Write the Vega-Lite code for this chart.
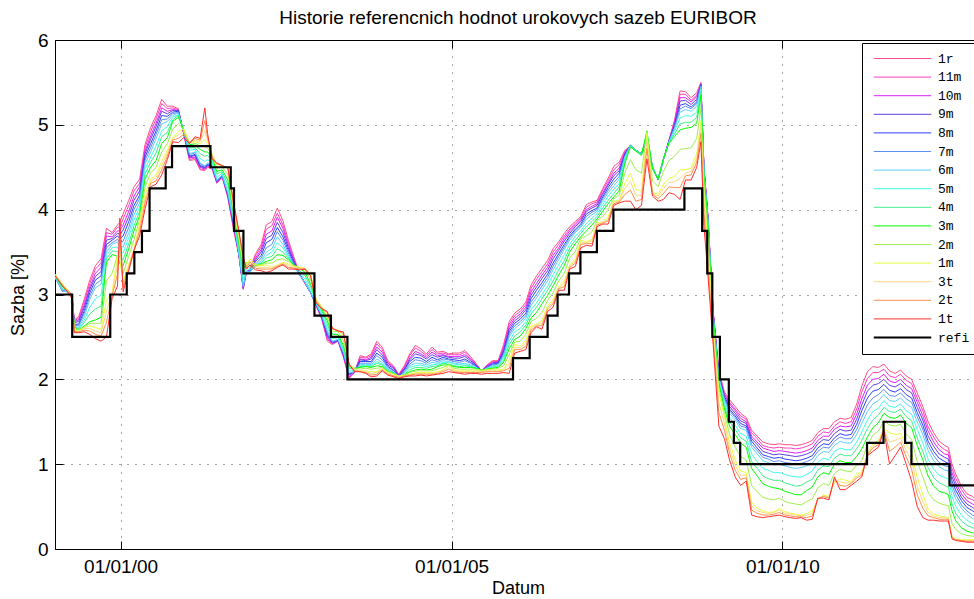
{
"$schema":"https://vega.github.io/schema/vega-lite/v6.json",
"width":926,"height":509,
"autosize":{"type":"none"},
"padding":{"left":55,"top":40,"right":0,"bottom":50},
"background":"white",
"title":{"text":"Historie referencnich hodnot urokovych sazeb EURIBOR","font":"Liberation Sans","fontSize":19,"fontWeight":"normal","color":"black","offset":3},
"config":{
 "view":{"stroke":"black","strokeWidth":1},
 "axis":{"domainColor":"black","tickColor":"black","labelColor":"black","titleColor":"black","labelFont":"Liberation Sans","titleFont":"Liberation Sans","labelFontSize":19,"titleFontSize":18,"titleFontWeight":"normal","gridColor":"#000","gridOpacity":0.7,"gridDash":[1,7],"tickSize":-8,"labelFlush":false,"labelOverlap":false}
},
"resolve":{"axis":{"x":"independent"}},
"layer":[
{
"data":{"values":[
{"d":"1999-01-04","1t":3.22,"2t":3.23,"3t":3.23,"1m":3.24,"2m":3.24,"3m":3.23,"4m":3.22,"5m":3.21,"6m":3.20,"7m":3.20,"8m":3.20,"9m":3.21,"10m":3.21,"11m":3.21,"1r":3.21},
{"d":"1999-02-15","1t":3.10,"2t":3.11,"3t":3.11,"1m":3.12,"2m":3.11,"3m":3.09,"4m":3.07,"5m":3.06,"6m":3.04,"7m":3.04,"8m":3.04,"9m":3.04,"10m":3.04,"11m":3.04,"1r":3.04},
{"d":"1999-03-15","1t":3.03,"2t":3.04,"3t":3.04,"1m":3.05,"2m":3.05,"3m":3.05,"4m":3.04,"5m":3.04,"6m":3.03,"7m":3.03,"8m":3.04,"9m":3.04,"10m":3.04,"11m":3.05,"1r":3.05},
{"d":"1999-04-08","1t":2.95,"2t":2.96,"3t":2.97,"1m":2.98,"2m":2.98,"3m":2.97,"4m":2.97,"5m":2.96,"6m":2.96,"7m":2.97,"8m":2.97,"9m":2.98,"10m":2.99,"11m":2.99,"1r":3.00},
{"d":"1999-04-20","1t":2.55,"2t":2.56,"3t":2.57,"1m":2.58,"2m":2.60,"3m":2.62,"4m":2.62,"5m":2.63,"6m":2.63,"7m":2.64,"8m":2.65,"9m":2.67,"10m":2.68,"11m":2.69,"1r":2.70},
{"d":"1999-05-15","1t":2.55,"2t":2.56,"3t":2.56,"1m":2.57,"2m":2.58,"3m":2.58,"4m":2.59,"5m":2.60,"6m":2.61,"7m":2.63,"8m":2.65,"9m":2.68,"10m":2.70,"11m":2.72,"1r":2.74},
{"d":"1999-06-15","1t":2.56,"2t":2.58,"3t":2.60,"1m":2.61,"2m":2.62,"3m":2.63,"4m":2.67,"5m":2.70,"6m":2.74,"7m":2.78,"8m":2.81,"9m":2.85,"10m":2.88,"11m":2.92,"1r":2.95},
{"d":"1999-07-15","1t":2.53,"2t":2.57,"3t":2.60,"1m":2.63,"2m":2.66,"3m":2.68,"4m":2.77,"5m":2.85,"6m":2.94,"7m":2.98,"8m":3.02,"9m":3.06,"10m":3.09,"11m":3.13,"1r":3.17},
{"d":"1999-08-15","1t":2.48,"2t":2.53,"3t":2.57,"1m":2.61,"2m":2.66,"3m":2.70,"4m":2.83,"5m":2.95,"6m":3.08,"7m":3.12,"8m":3.17,"9m":3.21,"10m":3.25,"11m":3.30,"1r":3.34},
{"d":"1999-09-15","1t":2.45,"2t":2.51,"3t":2.55,"1m":2.59,"2m":2.66,"3m":2.73,"4m":2.86,"5m":2.99,"6m":3.12,"7m":3.17,"8m":3.22,"9m":3.27,"10m":3.32,"11m":3.37,"1r":3.42},
{"d":"1999-10-15","1t":2.50,"2t":2.67,"3t":2.80,"1m":2.93,"2m":3.16,"3m":3.38,"4m":3.42,"5m":3.46,"6m":3.50,"7m":3.55,"8m":3.59,"9m":3.64,"10m":3.69,"11m":3.73,"1r":3.78},
{"d":"1999-11-15","1t":2.95,"2t":2.98,"3t":3.01,"1m":3.03,"2m":3.25,"3m":3.47,"4m":3.51,"5m":3.55,"6m":3.59,"7m":3.61,"8m":3.64,"9m":3.66,"10m":3.68,"11m":3.71,"1r":3.73},
{"d":"1999-12-15","1t":3.10,"2t":3.24,"3t":3.35,"1m":3.46,"2m":3.46,"3m":3.45,"4m":3.51,"5m":3.56,"6m":3.62,"7m":3.65,"8m":3.69,"9m":3.72,"10m":3.75,"11m":3.79,"1r":3.82},
{"d":"1999-12-28","1t":3.90,"2t":3.70,"3t":3.55,"1m":3.40,"2m":3.38,"3m":3.36,"4m":3.43,"5m":3.49,"6m":3.56,"7m":3.61,"8m":3.66,"9m":3.71,"10m":3.75,"11m":3.80,"1r":3.85},
{"d":"2000-01-15","1t":3.03,"2t":3.08,"3t":3.11,"1m":3.15,"2m":3.25,"3m":3.34,"4m":3.41,"5m":3.49,"6m":3.56,"7m":3.63,"8m":3.69,"9m":3.76,"10m":3.82,"11m":3.89,"1r":3.95},
{"d":"2000-02-15","1t":3.28,"2t":3.31,"3t":3.34,"1m":3.36,"2m":3.45,"3m":3.54,"4m":3.60,"5m":3.67,"6m":3.73,"7m":3.79,"8m":3.86,"9m":3.92,"10m":3.98,"11m":4.05,"1r":4.11},
{"d":"2000-03-15","1t":3.52,"2t":3.52,"3t":3.53,"1m":3.53,"2m":3.64,"3m":3.75,"4m":3.81,"5m":3.88,"6m":3.94,"7m":4.00,"8m":4.05,"9m":4.11,"10m":4.16,"11m":4.22,"1r":4.27},
{"d":"2000-04-15","1t":3.69,"2t":3.75,"3t":3.80,"1m":3.85,"2m":3.89,"3m":3.93,"4m":3.98,"5m":4.03,"6m":4.08,"7m":4.13,"8m":4.17,"9m":4.22,"10m":4.27,"11m":4.31,"1r":4.36},
{"d":"2000-05-15","1t":4.01,"2t":4.08,"3t":4.13,"1m":4.18,"2m":4.27,"3m":4.36,"4m":4.42,"5m":4.48,"6m":4.54,"7m":4.58,"8m":4.62,"9m":4.66,"10m":4.69,"11m":4.73,"1r":4.77},
{"d":"2000-06-15","1t":4.27,"2t":4.31,"3t":4.33,"1m":4.36,"2m":4.43,"3m":4.50,"4m":4.56,"5m":4.62,"6m":4.68,"7m":4.73,"8m":4.78,"9m":4.83,"10m":4.87,"11m":4.92,"1r":4.97},
{"d":"2000-07-15","1t":4.30,"2t":4.34,"3t":4.38,"1m":4.41,"2m":4.50,"3m":4.58,"4m":4.67,"5m":4.75,"6m":4.84,"7m":4.89,"8m":4.93,"9m":4.98,"10m":5.02,"11m":5.07,"1r":5.11},
{"d":"2000-08-15","1t":4.41,"2t":4.47,"3t":4.52,"1m":4.57,"2m":4.68,"3m":4.78,"4m":4.86,"5m":4.93,"6m":5.01,"7m":5.06,"8m":5.11,"9m":5.16,"10m":5.20,"11m":5.25,"1r":5.30},
{"d":"2000-09-15","1t":4.59,"2t":4.63,"3t":4.67,"1m":4.70,"2m":4.78,"3m":4.85,"4m":4.91,"5m":4.98,"6m":5.04,"7m":5.07,"8m":5.10,"9m":5.13,"10m":5.16,"11m":5.19,"1r":5.22},
{"d":"2000-10-15","1t":4.80,"2t":4.82,"3t":4.84,"1m":4.85,"2m":4.95,"3m":5.04,"4m":5.06,"5m":5.09,"6m":5.11,"7m":5.13,"8m":5.15,"9m":5.17,"10m":5.18,"11m":5.20,"1r":5.22},
{"d":"2000-11-15","1t":4.79,"2t":4.84,"3t":4.88,"1m":4.92,"2m":5.01,"3m":5.09,"4m":5.11,"5m":5.12,"6m":5.14,"7m":5.15,"8m":5.16,"9m":5.17,"10m":5.17,"11m":5.18,"1r":5.19},
{"d":"2000-12-15","1t":4.85,"2t":4.89,"3t":4.92,"1m":4.95,"2m":4.95,"3m":4.94,"4m":4.93,"5m":4.93,"6m":4.92,"7m":4.91,"8m":4.91,"9m":4.90,"10m":4.89,"11m":4.89,"1r":4.88},
{"d":"2001-01-15","1t":4.78,"2t":4.79,"3t":4.79,"1m":4.80,"2m":4.79,"3m":4.77,"4m":4.73,"5m":4.70,"6m":4.66,"7m":4.65,"8m":4.63,"9m":4.62,"10m":4.61,"11m":4.59,"1r":4.58},
{"d":"2001-02-15","1t":4.86,"2t":4.84,"3t":4.82,"1m":4.80,"2m":4.78,"3m":4.76,"4m":4.73,"5m":4.71,"6m":4.68,"7m":4.67,"8m":4.65,"9m":4.64,"10m":4.62,"11m":4.61,"1r":4.59},
{"d":"2001-03-15","1t":4.84,"2t":4.82,"3t":4.80,"1m":4.78,"2m":4.75,"3m":4.71,"4m":4.66,"5m":4.60,"6m":4.55,"7m":4.54,"8m":4.52,"9m":4.51,"10m":4.50,"11m":4.48,"1r":4.47},
{"d":"2001-04-10","1t":5.20,"2t":5.05,"3t":4.93,"1m":4.82,"2m":4.75,"3m":4.68,"4m":4.63,"5m":4.57,"6m":4.52,"7m":4.51,"8m":4.50,"9m":4.49,"10m":4.48,"11m":4.47,"1r":4.46},
{"d":"2001-04-25","1t":4.90,"2t":4.85,"3t":4.82,"1m":4.78,"2m":4.73,"3m":4.68,"4m":4.64,"5m":4.59,"6m":4.55,"7m":4.54,"8m":4.53,"9m":4.53,"10m":4.52,"11m":4.51,"1r":4.50},
{"d":"2001-05-20","1t":4.60,"2t":4.62,"3t":4.64,"1m":4.66,"2m":4.64,"3m":4.62,"4m":4.59,"5m":4.56,"6m":4.53,"7m":4.52,"8m":4.51,"9m":4.51,"10m":4.50,"11m":4.49,"1r":4.48},
{"d":"2001-06-15","1t":4.55,"2t":4.54,"3t":4.54,"1m":4.53,"2m":4.49,"3m":4.45,"4m":4.42,"5m":4.38,"6m":4.35,"7m":4.34,"8m":4.34,"9m":4.33,"10m":4.32,"11m":4.32,"1r":4.31},
{"d":"2001-07-15","1t":4.52,"2t":4.52,"3t":4.52,"1m":4.52,"2m":4.50,"3m":4.47,"4m":4.45,"5m":4.43,"6m":4.41,"7m":4.40,"8m":4.40,"9m":4.40,"10m":4.39,"11m":4.39,"1r":4.38},
{"d":"2001-08-15","1t":4.49,"2t":4.49,"3t":4.49,"1m":4.49,"2m":4.42,"3m":4.35,"4m":4.30,"5m":4.25,"6m":4.20,"7m":4.19,"8m":4.18,"9m":4.17,"10m":4.16,"11m":4.15,"1r":4.14},
{"d":"2001-09-15","1t":4.10,"2t":4.07,"3t":4.04,"1m":4.02,"2m":4.00,"3m":3.98,"4m":3.95,"5m":3.91,"6m":3.88,"7m":3.86,"8m":3.84,"9m":3.83,"10m":3.81,"11m":3.79,"1r":3.77},
{"d":"2001-10-15","1t":3.75,"2t":3.73,"3t":3.71,"1m":3.69,"2m":3.65,"3m":3.60,"4m":3.56,"5m":3.52,"6m":3.48,"7m":3.48,"8m":3.47,"9m":3.47,"10m":3.47,"11m":3.46,"1r":3.46},
{"d":"2001-11-08","1t":3.45,"2t":3.42,"3t":3.40,"1m":3.38,"2m":3.34,"3m":3.30,"4m":3.23,"5m":3.17,"6m":3.10,"7m":3.09,"8m":3.09,"9m":3.08,"10m":3.07,"11m":3.07,"1r":3.06},
{"d":"2001-11-25","1t":3.30,"2t":3.32,"3t":3.34,"1m":3.35,"2m":3.37,"3m":3.38,"4m":3.35,"5m":3.31,"6m":3.28,"7m":3.27,"8m":3.27,"9m":3.27,"10m":3.27,"11m":3.26,"1r":3.26},
{"d":"2001-12-15","1t":3.35,"2t":3.38,"3t":3.40,"1m":3.42,"2m":3.38,"3m":3.34,"4m":3.31,"5m":3.29,"6m":3.26,"7m":3.27,"8m":3.27,"9m":3.28,"10m":3.29,"11m":3.29,"1r":3.30},
{"d":"2002-01-15","1t":3.29,"2t":3.31,"3t":3.33,"1m":3.35,"2m":3.35,"3m":3.34,"4m":3.34,"5m":3.34,"6m":3.34,"7m":3.36,"8m":3.39,"9m":3.41,"10m":3.43,"11m":3.46,"1r":3.48},
{"d":"2002-02-15","1t":3.28,"2t":3.30,"3t":3.32,"1m":3.34,"2m":3.35,"3m":3.36,"4m":3.37,"5m":3.39,"6m":3.40,"7m":3.43,"8m":3.46,"9m":3.50,"10m":3.53,"11m":3.56,"1r":3.59},
{"d":"2002-03-15","1t":3.26,"2t":3.30,"3t":3.32,"1m":3.35,"2m":3.37,"3m":3.39,"4m":3.43,"5m":3.46,"6m":3.50,"7m":3.55,"8m":3.61,"9m":3.66,"10m":3.71,"11m":3.77,"1r":3.82},
{"d":"2002-04-15","1t":3.28,"2t":3.30,"3t":3.31,"1m":3.32,"2m":3.37,"3m":3.41,"4m":3.45,"5m":3.50,"6m":3.54,"7m":3.59,"8m":3.65,"9m":3.70,"10m":3.75,"11m":3.81,"1r":3.86},
{"d":"2002-05-15","1t":3.32,"2t":3.33,"3t":3.34,"1m":3.35,"2m":3.41,"3m":3.47,"4m":3.54,"5m":3.61,"6m":3.68,"7m":3.74,"8m":3.79,"9m":3.85,"10m":3.91,"11m":3.96,"1r":4.02},
{"d":"2002-06-15","1t":3.35,"2t":3.36,"3t":3.37,"1m":3.38,"2m":3.42,"3m":3.46,"4m":3.50,"5m":3.55,"6m":3.59,"7m":3.64,"8m":3.68,"9m":3.73,"10m":3.78,"11m":3.82,"1r":3.87},
{"d":"2002-07-15","1t":3.30,"2t":3.32,"3t":3.34,"1m":3.36,"2m":3.39,"3m":3.41,"4m":3.43,"5m":3.44,"6m":3.46,"7m":3.49,"8m":3.52,"9m":3.55,"10m":3.58,"11m":3.61,"1r":3.64},
{"d":"2002-08-15","1t":3.30,"2t":3.31,"3t":3.32,"1m":3.33,"2m":3.34,"3m":3.35,"4m":3.34,"5m":3.34,"6m":3.33,"7m":3.35,"8m":3.37,"9m":3.39,"10m":3.40,"11m":3.42,"1r":3.44},
{"d":"2002-09-15","1t":3.29,"2t":3.30,"3t":3.31,"1m":3.32,"2m":3.32,"3m":3.31,"4m":3.28,"5m":3.26,"6m":3.23,"7m":3.23,"8m":3.23,"9m":3.24,"10m":3.24,"11m":3.24,"1r":3.24},
{"d":"2002-10-15","1t":3.30,"2t":3.30,"3t":3.31,"1m":3.31,"2m":3.29,"3m":3.26,"4m":3.22,"5m":3.18,"6m":3.14,"7m":3.14,"8m":3.14,"9m":3.14,"10m":3.13,"11m":3.13,"1r":3.13},
{"d":"2002-11-15","1t":3.22,"2t":3.22,"3t":3.23,"1m":3.23,"2m":3.18,"3m":3.12,"4m":3.09,"5m":3.05,"6m":3.02,"7m":3.02,"8m":3.02,"9m":3.02,"10m":3.02,"11m":3.02,"1r":3.02},
{"d":"2002-12-15","1t":2.90,"2t":2.92,"3t":2.93,"1m":2.94,"2m":2.94,"3m":2.94,"4m":2.92,"5m":2.91,"6m":2.89,"7m":2.89,"8m":2.88,"9m":2.88,"10m":2.88,"11m":2.87,"1r":2.87},
{"d":"2003-01-15","1t":2.83,"2t":2.84,"3t":2.85,"1m":2.86,"2m":2.85,"3m":2.83,"4m":2.81,"5m":2.78,"6m":2.76,"7m":2.75,"8m":2.74,"9m":2.74,"10m":2.73,"11m":2.72,"1r":2.71},
{"d":"2003-02-15","1t":2.80,"2t":2.79,"3t":2.78,"1m":2.77,"2m":2.73,"3m":2.69,"4m":2.65,"5m":2.61,"6m":2.57,"7m":2.55,"8m":2.53,"9m":2.51,"10m":2.49,"11m":2.47,"1r":2.45},
{"d":"2003-03-15","1t":2.60,"2t":2.60,"3t":2.60,"1m":2.60,"2m":2.57,"3m":2.53,"4m":2.50,"5m":2.48,"6m":2.45,"7m":2.44,"8m":2.44,"9m":2.43,"10m":2.42,"11m":2.42,"1r":2.41},
{"d":"2003-04-15","1t":2.57,"2t":2.57,"3t":2.58,"1m":2.58,"2m":2.56,"3m":2.53,"4m":2.51,"5m":2.49,"6m":2.47,"7m":2.47,"8m":2.46,"9m":2.46,"10m":2.46,"11m":2.45,"1r":2.45},
{"d":"2003-05-15","1t":2.56,"2t":2.54,"3t":2.53,"1m":2.52,"2m":2.46,"3m":2.40,"4m":2.37,"5m":2.35,"6m":2.32,"7m":2.31,"8m":2.30,"9m":2.29,"10m":2.28,"11m":2.27,"1r":2.26},
{"d":"2003-06-15","1t":2.18,"2t":2.18,"3t":2.18,"1m":2.18,"2m":2.17,"3m":2.15,"4m":2.13,"5m":2.10,"6m":2.08,"7m":2.07,"8m":2.06,"9m":2.05,"10m":2.03,"11m":2.02,"1r":2.01},
{"d":"2003-07-15","1t":2.09,"2t":2.10,"3t":2.11,"1m":2.12,"2m":2.13,"3m":2.13,"4m":2.12,"5m":2.10,"6m":2.09,"7m":2.09,"8m":2.09,"9m":2.09,"10m":2.08,"11m":2.08,"1r":2.08},
{"d":"2003-08-15","1t":2.09,"2t":2.09,"3t":2.10,"1m":2.10,"2m":2.12,"3m":2.14,"4m":2.15,"5m":2.16,"6m":2.17,"7m":2.19,"8m":2.21,"9m":2.23,"10m":2.24,"11m":2.26,"1r":2.28},
{"d":"2003-09-15","1t":2.07,"2t":2.08,"3t":2.09,"1m":2.10,"2m":2.13,"3m":2.15,"4m":2.16,"5m":2.17,"6m":2.18,"7m":2.19,"8m":2.21,"9m":2.22,"10m":2.23,"11m":2.25,"1r":2.26},
{"d":"2003-10-15","1t":2.03,"2t":2.05,"3t":2.07,"1m":2.09,"2m":2.12,"3m":2.14,"4m":2.15,"5m":2.16,"6m":2.17,"7m":2.19,"8m":2.21,"9m":2.24,"10m":2.26,"11m":2.28,"1r":2.30},
{"d":"2003-11-15","1t":2.04,"2t":2.06,"3t":2.08,"1m":2.09,"2m":2.13,"3m":2.16,"4m":2.19,"5m":2.21,"6m":2.24,"7m":2.28,"8m":2.31,"9m":2.35,"10m":2.38,"11m":2.42,"1r":2.45},
{"d":"2003-12-15","1t":2.10,"2t":2.11,"3t":2.12,"1m":2.13,"2m":2.14,"3m":2.15,"4m":2.17,"5m":2.18,"6m":2.20,"7m":2.23,"8m":2.26,"9m":2.29,"10m":2.32,"11m":2.35,"1r":2.38},
{"d":"2004-01-15","1t":2.05,"2t":2.06,"3t":2.07,"1m":2.08,"2m":2.09,"3m":2.09,"4m":2.10,"5m":2.11,"6m":2.12,"7m":2.14,"8m":2.15,"9m":2.17,"10m":2.19,"11m":2.20,"1r":2.22},
{"d":"2004-02-15","1t":2.03,"2t":2.04,"3t":2.05,"1m":2.06,"2m":2.07,"3m":2.07,"4m":2.08,"5m":2.08,"6m":2.09,"7m":2.10,"8m":2.11,"9m":2.13,"10m":2.14,"11m":2.15,"1r":2.16},
{"d":"2004-03-15","1t":2.01,"2t":2.02,"3t":2.03,"1m":2.04,"2m":2.04,"3m":2.03,"4m":2.03,"5m":2.02,"6m":2.02,"7m":2.03,"8m":2.03,"9m":2.04,"10m":2.05,"11m":2.05,"1r":2.06},
{"d":"2004-04-15","1t":2.03,"2t":2.04,"3t":2.04,"1m":2.05,"2m":2.05,"3m":2.05,"4m":2.06,"5m":2.07,"6m":2.08,"7m":2.09,"8m":2.11,"9m":2.12,"10m":2.13,"11m":2.15,"1r":2.16},
{"d":"2004-05-15","1t":2.04,"2t":2.05,"3t":2.05,"1m":2.06,"2m":2.08,"3m":2.09,"4m":2.11,"5m":2.14,"6m":2.16,"7m":2.18,"8m":2.21,"9m":2.23,"10m":2.25,"11m":2.28,"1r":2.30},
{"d":"2004-06-15","1t":2.04,"2t":2.06,"3t":2.07,"1m":2.08,"2m":2.10,"3m":2.11,"4m":2.14,"5m":2.16,"6m":2.19,"7m":2.23,"8m":2.26,"9m":2.30,"10m":2.33,"11m":2.37,"1r":2.40},
{"d":"2004-07-15","1t":2.05,"2t":2.06,"3t":2.07,"1m":2.08,"2m":2.10,"3m":2.12,"4m":2.14,"5m":2.17,"6m":2.19,"7m":2.22,"8m":2.25,"9m":2.28,"10m":2.30,"11m":2.33,"1r":2.36},
{"d":"2004-08-15","1t":2.04,"2t":2.06,"3t":2.07,"1m":2.08,"2m":2.10,"3m":2.11,"4m":2.13,"5m":2.15,"6m":2.17,"7m":2.19,"8m":2.21,"9m":2.24,"10m":2.26,"11m":2.28,"1r":2.30},
{"d":"2004-09-15","1t":2.05,"2t":2.06,"3t":2.07,"1m":2.08,"2m":2.10,"3m":2.12,"4m":2.15,"5m":2.17,"6m":2.20,"7m":2.23,"8m":2.26,"9m":2.29,"10m":2.32,"11m":2.35,"1r":2.38},
{"d":"2004-10-15","1t":2.06,"2t":2.07,"3t":2.08,"1m":2.09,"2m":2.12,"3m":2.15,"4m":2.16,"5m":2.18,"6m":2.19,"7m":2.21,"8m":2.23,"9m":2.26,"10m":2.28,"11m":2.30,"1r":2.32},
{"d":"2004-11-15","1t":2.07,"2t":2.09,"3t":2.10,"1m":2.11,"2m":2.14,"3m":2.17,"4m":2.19,"5m":2.20,"6m":2.22,"7m":2.24,"8m":2.26,"9m":2.28,"10m":2.29,"11m":2.31,"1r":2.33},
{"d":"2004-12-15","1t":2.09,"2t":2.12,"3t":2.15,"1m":2.17,"2m":2.17,"3m":2.17,"4m":2.18,"5m":2.20,"6m":2.21,"7m":2.23,"8m":2.24,"9m":2.26,"10m":2.27,"11m":2.29,"1r":2.30},
{"d":"2005-01-15","1t":2.08,"2t":2.09,"3t":2.10,"1m":2.11,"2m":2.13,"3m":2.15,"4m":2.16,"5m":2.18,"6m":2.19,"7m":2.21,"8m":2.23,"9m":2.25,"10m":2.27,"11m":2.29,"1r":2.31},
{"d":"2005-02-15","1t":2.07,"2t":2.08,"3t":2.09,"1m":2.10,"2m":2.12,"3m":2.14,"4m":2.15,"5m":2.17,"6m":2.18,"7m":2.20,"8m":2.22,"9m":2.25,"10m":2.27,"11m":2.29,"1r":2.31},
{"d":"2005-03-15","1t":2.06,"2t":2.08,"3t":2.09,"1m":2.10,"2m":2.12,"3m":2.14,"4m":2.16,"5m":2.17,"6m":2.19,"7m":2.22,"8m":2.24,"9m":2.27,"10m":2.29,"11m":2.32,"1r":2.34},
{"d":"2005-04-15","1t":2.07,"2t":2.08,"3t":2.09,"1m":2.10,"2m":2.12,"3m":2.14,"4m":2.15,"5m":2.16,"6m":2.17,"7m":2.19,"8m":2.20,"9m":2.22,"10m":2.24,"11m":2.25,"1r":2.27},
{"d":"2005-05-15","1t":2.07,"2t":2.08,"3t":2.09,"1m":2.10,"2m":2.12,"3m":2.13,"4m":2.13,"5m":2.14,"6m":2.14,"7m":2.15,"8m":2.16,"9m":2.17,"10m":2.17,"11m":2.18,"1r":2.19},
{"d":"2005-06-15","1t":2.06,"2t":2.08,"3t":2.09,"1m":2.10,"2m":2.11,"3m":2.11,"4m":2.11,"5m":2.10,"6m":2.10,"7m":2.10,"8m":2.10,"9m":2.10,"10m":2.10,"11m":2.10,"1r":2.10},
{"d":"2005-07-15","1t":2.07,"2t":2.09,"3t":2.10,"1m":2.11,"2m":2.12,"3m":2.12,"4m":2.12,"5m":2.13,"6m":2.13,"7m":2.14,"8m":2.14,"9m":2.15,"10m":2.16,"11m":2.16,"1r":2.17},
{"d":"2005-08-15","1t":2.07,"2t":2.09,"3t":2.10,"1m":2.11,"2m":2.12,"3m":2.13,"4m":2.14,"5m":2.15,"6m":2.16,"7m":2.17,"8m":2.18,"9m":2.19,"10m":2.20,"11m":2.21,"1r":2.22},
{"d":"2005-09-15","1t":2.07,"2t":2.09,"3t":2.10,"1m":2.11,"2m":2.13,"3m":2.14,"4m":2.15,"5m":2.16,"6m":2.17,"7m":2.18,"8m":2.19,"9m":2.20,"10m":2.20,"11m":2.21,"1r":2.22},
{"d":"2005-10-15","1t":2.08,"2t":2.10,"3t":2.11,"1m":2.12,"2m":2.16,"3m":2.20,"4m":2.22,"5m":2.25,"6m":2.27,"7m":2.29,"8m":2.32,"9m":2.34,"10m":2.36,"11m":2.39,"1r":2.41},
{"d":"2005-11-15","1t":2.07,"2t":2.13,"3t":2.18,"1m":2.22,"2m":2.29,"3m":2.36,"4m":2.41,"5m":2.45,"6m":2.50,"7m":2.53,"8m":2.56,"9m":2.59,"10m":2.62,"11m":2.65,"1r":2.68},
{"d":"2005-12-15","1t":2.31,"2t":2.35,"3t":2.38,"1m":2.41,"2m":2.44,"3m":2.47,"4m":2.51,"5m":2.56,"6m":2.60,"7m":2.63,"8m":2.66,"9m":2.69,"10m":2.72,"11m":2.75,"1r":2.78},
{"d":"2006-01-15","1t":2.33,"2t":2.35,"3t":2.37,"1m":2.39,"2m":2.45,"3m":2.51,"4m":2.56,"5m":2.60,"6m":2.65,"7m":2.68,"8m":2.71,"9m":2.74,"10m":2.77,"11m":2.80,"1r":2.83},
{"d":"2006-02-15","1t":2.35,"2t":2.39,"3t":2.43,"1m":2.46,"2m":2.53,"3m":2.60,"4m":2.64,"5m":2.68,"6m":2.72,"7m":2.75,"8m":2.78,"9m":2.82,"10m":2.85,"11m":2.88,"1r":2.91},
{"d":"2006-03-15","1t":2.55,"2t":2.58,"3t":2.61,"1m":2.63,"2m":2.68,"3m":2.72,"4m":2.77,"5m":2.82,"6m":2.87,"7m":2.91,"8m":2.95,"9m":2.99,"10m":3.03,"11m":3.07,"1r":3.11},
{"d":"2006-04-15","1t":2.62,"2t":2.63,"3t":2.64,"1m":2.65,"2m":2.72,"3m":2.79,"4m":2.85,"5m":2.90,"6m":2.96,"7m":3.00,"8m":3.05,"9m":3.09,"10m":3.13,"11m":3.18,"1r":3.22},
{"d":"2006-05-15","1t":2.59,"2t":2.63,"3t":2.66,"1m":2.69,"2m":2.79,"3m":2.89,"4m":2.95,"5m":3.00,"6m":3.06,"7m":3.10,"8m":3.14,"9m":3.19,"10m":3.23,"11m":3.27,"1r":3.31},
{"d":"2006-06-15","1t":2.80,"2t":2.83,"3t":2.85,"1m":2.87,"2m":2.93,"3m":2.99,"4m":3.05,"5m":3.10,"6m":3.16,"7m":3.20,"8m":3.24,"9m":3.28,"10m":3.32,"11m":3.36,"1r":3.40},
{"d":"2006-07-15","1t":2.85,"2t":2.89,"3t":2.91,"1m":2.94,"2m":3.02,"3m":3.10,"4m":3.16,"5m":3.23,"6m":3.29,"7m":3.33,"8m":3.37,"9m":3.42,"10m":3.46,"11m":3.50,"1r":3.54},
{"d":"2006-08-15","1t":3.05,"2t":3.07,"3t":3.08,"1m":3.09,"2m":3.16,"3m":3.23,"4m":3.29,"5m":3.35,"6m":3.41,"7m":3.45,"8m":3.48,"9m":3.52,"10m":3.55,"11m":3.59,"1r":3.62},
{"d":"2006-09-15","1t":3.05,"2t":3.09,"3t":3.13,"1m":3.16,"2m":3.25,"3m":3.34,"4m":3.40,"5m":3.47,"6m":3.53,"7m":3.56,"8m":3.59,"9m":3.63,"10m":3.66,"11m":3.69,"1r":3.72},
{"d":"2006-10-15","1t":3.30,"2t":3.32,"3t":3.34,"1m":3.35,"2m":3.43,"3m":3.50,"4m":3.55,"5m":3.59,"6m":3.64,"7m":3.67,"8m":3.69,"9m":3.72,"10m":3.75,"11m":3.77,"1r":3.80},
{"d":"2006-11-15","1t":3.33,"2t":3.37,"3t":3.39,"1m":3.42,"2m":3.51,"3m":3.60,"4m":3.64,"5m":3.69,"6m":3.73,"7m":3.75,"8m":3.77,"9m":3.80,"10m":3.82,"11m":3.84,"1r":3.86},
{"d":"2006-12-15","1t":3.55,"2t":3.59,"3t":3.61,"1m":3.64,"2m":3.66,"3m":3.68,"4m":3.72,"5m":3.75,"6m":3.79,"7m":3.81,"8m":3.83,"9m":3.86,"10m":3.88,"11m":3.90,"1r":3.92},
{"d":"2007-01-15","1t":3.58,"2t":3.60,"3t":3.61,"1m":3.62,"2m":3.69,"3m":3.75,"4m":3.80,"5m":3.84,"6m":3.89,"7m":3.92,"8m":3.95,"9m":3.98,"10m":4.00,"11m":4.03,"1r":4.06},
{"d":"2007-02-15","1t":3.57,"2t":3.60,"3t":3.63,"1m":3.65,"2m":3.74,"3m":3.82,"4m":3.86,"5m":3.90,"6m":3.94,"7m":3.97,"8m":3.99,"9m":4.02,"10m":4.04,"11m":4.07,"1r":4.09},
{"d":"2007-03-15","1t":3.80,"2t":3.82,"3t":3.83,"1m":3.84,"2m":3.87,"3m":3.89,"4m":3.92,"5m":3.95,"6m":3.98,"7m":4.00,"8m":4.02,"9m":4.05,"10m":4.07,"11m":4.09,"1r":4.11},
{"d":"2007-04-15","1t":3.83,"2t":3.84,"3t":3.85,"1m":3.86,"2m":3.92,"3m":3.98,"4m":4.02,"5m":4.06,"6m":4.10,"7m":4.13,"8m":4.15,"9m":4.18,"10m":4.20,"11m":4.23,"1r":4.25},
{"d":"2007-05-15","1t":3.83,"2t":3.87,"3t":3.89,"1m":3.92,"2m":4.00,"3m":4.07,"4m":4.11,"5m":4.16,"6m":4.20,"7m":4.23,"8m":4.26,"9m":4.29,"10m":4.31,"11m":4.34,"1r":4.37},
{"d":"2007-06-15","1t":4.05,"2t":4.07,"3t":4.09,"1m":4.10,"2m":4.13,"3m":4.15,"4m":4.19,"5m":4.24,"6m":4.28,"7m":4.32,"8m":4.36,"9m":4.40,"10m":4.43,"11m":4.47,"1r":4.51},
{"d":"2007-07-15","1t":4.08,"2t":4.09,"3t":4.10,"1m":4.11,"2m":4.17,"3m":4.22,"4m":4.27,"5m":4.31,"6m":4.36,"7m":4.39,"8m":4.43,"9m":4.46,"10m":4.49,"11m":4.53,"1r":4.56},
{"d":"2007-08-15","1t":4.10,"2t":4.18,"3t":4.25,"1m":4.31,"2m":4.43,"3m":4.54,"4m":4.57,"5m":4.59,"6m":4.62,"7m":4.63,"8m":4.65,"9m":4.66,"10m":4.67,"11m":4.69,"1r":4.70},
{"d":"2007-09-15","1t":4.10,"2t":4.23,"3t":4.33,"1m":4.43,"2m":4.59,"3m":4.74,"4m":4.75,"5m":4.75,"6m":4.76,"7m":4.76,"8m":4.76,"9m":4.76,"10m":4.75,"11m":4.75,"1r":4.75},
{"d":"2007-10-15","1t":4.00,"2t":4.10,"3t":4.17,"1m":4.24,"2m":4.47,"3m":4.69,"4m":4.69,"5m":4.70,"6m":4.70,"7m":4.70,"8m":4.70,"9m":4.70,"10m":4.70,"11m":4.70,"1r":4.70},
{"d":"2007-11-15","1t":4.05,"2t":4.12,"3t":4.17,"1m":4.22,"2m":4.43,"3m":4.64,"4m":4.65,"5m":4.65,"6m":4.66,"7m":4.66,"8m":4.66,"9m":4.66,"10m":4.66,"11m":4.66,"1r":4.66},
{"d":"2007-12-15","1t":4.60,"2t":4.72,"3t":4.81,"1m":4.90,"2m":4.92,"3m":4.93,"4m":4.90,"5m":4.88,"6m":4.85,"7m":4.84,"8m":4.83,"9m":4.83,"10m":4.82,"11m":4.81,"1r":4.80},
{"d":"2008-01-15","1t":4.16,"2t":4.18,"3t":4.19,"1m":4.20,"2m":4.34,"3m":4.48,"4m":4.49,"5m":4.49,"6m":4.50,"7m":4.50,"8m":4.50,"9m":4.50,"10m":4.50,"11m":4.50,"1r":4.50},
{"d":"2008-02-15","1t":4.10,"2t":4.13,"3t":4.16,"1m":4.18,"2m":4.27,"3m":4.36,"4m":4.36,"5m":4.36,"6m":4.36,"7m":4.36,"8m":4.36,"9m":4.36,"10m":4.36,"11m":4.35,"1r":4.35},
{"d":"2008-03-15","1t":4.12,"2t":4.19,"3t":4.25,"1m":4.30,"2m":4.45,"3m":4.60,"4m":4.60,"5m":4.59,"6m":4.59,"7m":4.59,"8m":4.59,"9m":4.59,"10m":4.59,"11m":4.59,"1r":4.59},
{"d":"2008-04-15","1t":4.20,"2t":4.27,"3t":4.32,"1m":4.37,"2m":4.58,"3m":4.78,"4m":4.79,"5m":4.79,"6m":4.80,"7m":4.80,"8m":4.81,"9m":4.81,"10m":4.81,"11m":4.82,"1r":4.82},
{"d":"2008-05-15","1t":4.18,"2t":4.26,"3t":4.33,"1m":4.39,"2m":4.63,"3m":4.86,"4m":4.89,"5m":4.92,"6m":4.95,"7m":4.97,"8m":4.98,"9m":5.00,"10m":5.02,"11m":5.03,"1r":5.05},
{"d":"2008-06-15","1t":4.12,"2t":4.26,"3t":4.37,"1m":4.47,"2m":4.71,"3m":4.94,"4m":5.01,"5m":5.08,"6m":5.15,"7m":5.19,"8m":5.23,"9m":5.28,"10m":5.32,"11m":5.36,"1r":5.40},
{"d":"2008-07-15","1t":4.35,"2t":4.40,"3t":4.43,"1m":4.47,"2m":4.72,"3m":4.96,"4m":5.03,"5m":5.11,"6m":5.18,"7m":5.22,"8m":5.25,"9m":5.29,"10m":5.32,"11m":5.36,"1r":5.39},
{"d":"2008-08-15","1t":4.35,"2t":4.41,"3t":4.45,"1m":4.49,"2m":4.73,"3m":4.97,"4m":5.03,"5m":5.10,"6m":5.16,"7m":5.19,"8m":5.21,"9m":5.24,"10m":5.27,"11m":5.29,"1r":5.32},
{"d":"2008-09-15","1t":4.50,"2t":4.56,"3t":4.61,"1m":4.66,"2m":4.84,"3m":5.02,"4m":5.09,"5m":5.15,"6m":5.22,"7m":5.25,"8m":5.27,"9m":5.30,"10m":5.33,"11m":5.35,"1r":5.38},
{"d":"2008-10-08","1t":4.80,"2t":4.90,"3t":4.98,"1m":5.05,"2m":5.20,"3m":5.35,"4m":5.38,"5m":5.42,"6m":5.45,"7m":5.46,"8m":5.47,"9m":5.48,"10m":5.48,"11m":5.49,"1r":5.50},
{"d":"2008-10-25","1t":3.80,"2t":3.96,"3t":4.08,"1m":4.20,"2m":4.30,"3m":4.40,"4m":4.42,"5m":4.43,"6m":4.45,"7m":4.46,"8m":4.47,"9m":4.48,"10m":4.48,"11m":4.49,"1r":4.50},
{"d":"2008-11-15","1t":3.25,"2t":3.39,"3t":3.50,"1m":3.60,"2m":3.73,"3m":3.85,"4m":3.87,"5m":3.88,"6m":3.90,"7m":3.91,"8m":3.92,"9m":3.93,"10m":3.93,"11m":3.94,"1r":3.95},
{"d":"2008-12-15","1t":2.40,"2t":2.46,"3t":2.51,"1m":2.55,"2m":2.63,"3m":2.70,"4m":2.72,"5m":2.73,"6m":2.75,"7m":2.76,"8m":2.77,"9m":2.78,"10m":2.78,"11m":2.79,"1r":2.80},
{"d":"2009-01-15","1t":1.45,"2t":1.61,"3t":1.73,"1m":1.85,"2m":1.90,"3m":1.95,"4m":1.97,"5m":2.00,"6m":2.02,"7m":2.03,"8m":2.05,"9m":2.06,"10m":2.07,"11m":2.09,"1r":2.10},
{"d":"2009-02-15","1t":1.30,"2t":1.40,"3t":1.48,"1m":1.55,"2m":1.60,"3m":1.65,"4m":1.68,"5m":1.72,"6m":1.75,"7m":1.77,"8m":1.78,"9m":1.80,"10m":1.82,"11m":1.83,"1r":1.85},
{"d":"2009-03-15","1t":1.05,"2t":1.13,"3t":1.19,"1m":1.25,"2m":1.35,"3m":1.45,"4m":1.50,"5m":1.55,"6m":1.60,"7m":1.63,"8m":1.65,"9m":1.68,"10m":1.71,"11m":1.73,"1r":1.76},
{"d":"2009-04-15","1t":0.85,"2t":0.93,"3t":0.99,"1m":1.05,"2m":1.20,"3m":1.35,"4m":1.41,"5m":1.46,"6m":1.52,"7m":1.55,"8m":1.57,"9m":1.60,"10m":1.63,"11m":1.65,"1r":1.68},
{"d":"2009-05-15","1t":0.75,"2t":0.82,"3t":0.87,"1m":0.92,"2m":1.09,"3m":1.25,"4m":1.31,"5m":1.36,"6m":1.42,"7m":1.45,"8m":1.48,"9m":1.51,"10m":1.54,"11m":1.57,"1r":1.60},
{"d":"2009-06-15","1t":0.80,"2t":0.84,"3t":0.87,"1m":0.90,"2m":1.05,"3m":1.20,"4m":1.27,"5m":1.33,"6m":1.40,"7m":1.43,"8m":1.45,"9m":1.48,"10m":1.50,"11m":1.53,"1r":1.55},
{"d":"2009-07-15","1t":0.40,"2t":0.46,"3t":0.51,"1m":0.55,"2m":0.75,"3m":0.95,"4m":1.03,"5m":1.12,"6m":1.20,"7m":1.23,"8m":1.27,"9m":1.30,"10m":1.33,"11m":1.37,"1r":1.40},
{"d":"2009-08-15","1t":0.38,"2t":0.42,"3t":0.45,"1m":0.48,"2m":0.67,"3m":0.86,"4m":0.95,"5m":1.03,"6m":1.12,"7m":1.16,"8m":1.19,"9m":1.23,"10m":1.26,"11m":1.30,"1r":1.33},
{"d":"2009-09-15","1t":0.37,"2t":0.40,"3t":0.43,"1m":0.45,"2m":0.61,"3m":0.77,"4m":0.86,"5m":0.95,"6m":1.04,"7m":1.08,"8m":1.11,"9m":1.15,"10m":1.19,"11m":1.22,"1r":1.26},
{"d":"2009-10-15","1t":0.38,"2t":0.40,"3t":0.42,"1m":0.43,"2m":0.59,"3m":0.74,"4m":0.83,"5m":0.93,"6m":1.02,"7m":1.06,"8m":1.09,"9m":1.13,"10m":1.17,"11m":1.20,"1r":1.24},
{"d":"2009-11-15","1t":0.39,"2t":0.41,"3t":0.43,"1m":0.44,"2m":0.58,"3m":0.72,"4m":0.81,"5m":0.90,"6m":0.99,"7m":1.03,"8m":1.07,"9m":1.11,"10m":1.15,"11m":1.19,"1r":1.23},
{"d":"2009-12-15","1t":0.40,"2t":0.43,"3t":0.46,"1m":0.48,"2m":0.60,"3m":0.71,"4m":0.81,"5m":0.90,"6m":1.00,"7m":1.04,"8m":1.08,"9m":1.12,"10m":1.16,"11m":1.20,"1r":1.24},
{"d":"2010-01-15","1t":0.38,"2t":0.40,"3t":0.42,"1m":0.44,"2m":0.56,"3m":0.68,"4m":0.78,"5m":0.88,"6m":0.98,"7m":1.02,"8m":1.06,"9m":1.11,"10m":1.15,"11m":1.19,"1r":1.23},
{"d":"2010-02-15","1t":0.37,"2t":0.39,"3t":0.41,"1m":0.42,"2m":0.54,"3m":0.66,"4m":0.76,"5m":0.86,"6m":0.96,"7m":1.01,"8m":1.05,"9m":1.10,"10m":1.14,"11m":1.19,"1r":1.23},
{"d":"2010-03-15","1t":0.36,"2t":0.38,"3t":0.40,"1m":0.41,"2m":0.53,"3m":0.64,"4m":0.74,"5m":0.85,"6m":0.95,"7m":1.00,"8m":1.04,"9m":1.09,"10m":1.13,"11m":1.18,"1r":1.22},
{"d":"2010-04-15","1t":0.37,"2t":0.38,"3t":0.39,"1m":0.40,"2m":0.52,"3m":0.64,"4m":0.75,"5m":0.85,"6m":0.96,"7m":1.01,"8m":1.05,"9m":1.10,"10m":1.14,"11m":1.19,"1r":1.23},
{"d":"2010-05-15","1t":0.34,"2t":0.37,"3t":0.40,"1m":0.42,"2m":0.56,"3m":0.69,"4m":0.79,"5m":0.88,"6m":0.98,"7m":1.03,"8m":1.07,"9m":1.12,"10m":1.16,"11m":1.21,"1r":1.25},
{"d":"2010-06-15","1t":0.35,"2t":0.39,"3t":0.42,"1m":0.45,"2m":0.59,"3m":0.73,"4m":0.82,"5m":0.92,"6m":1.01,"7m":1.06,"8m":1.10,"9m":1.15,"10m":1.19,"11m":1.24,"1r":1.28},
{"d":"2010-07-15","1t":0.60,"2t":0.59,"3t":0.59,"1m":0.58,"2m":0.72,"3m":0.85,"4m":0.93,"5m":1.02,"6m":1.10,"7m":1.15,"8m":1.19,"9m":1.24,"10m":1.28,"11m":1.33,"1r":1.37},
{"d":"2010-08-15","1t":0.60,"2t":0.62,"3t":0.63,"1m":0.64,"2m":0.77,"3m":0.90,"4m":0.98,"5m":1.07,"6m":1.15,"7m":1.20,"8m":1.24,"9m":1.29,"10m":1.33,"11m":1.38,"1r":1.42},
{"d":"2010-09-15","1t":0.58,"2t":0.60,"3t":0.61,"1m":0.62,"2m":0.75,"3m":0.88,"4m":0.97,"5m":1.05,"6m":1.14,"7m":1.19,"8m":1.23,"9m":1.28,"10m":1.33,"11m":1.37,"1r":1.42},
{"d":"2010-10-15","1t":0.85,"2t":0.82,"3t":0.80,"1m":0.78,"2m":0.89,"3m":1.00,"4m":1.07,"5m":1.15,"6m":1.22,"7m":1.27,"8m":1.31,"9m":1.36,"10m":1.41,"11m":1.45,"1r":1.50},
{"d":"2010-11-15","1t":0.70,"2t":0.75,"3t":0.79,"1m":0.83,"2m":0.94,"3m":1.04,"4m":1.12,"5m":1.19,"6m":1.27,"7m":1.32,"8m":1.36,"9m":1.41,"10m":1.45,"11m":1.50,"1r":1.54},
{"d":"2010-12-15","1t":0.70,"2t":0.74,"3t":0.78,"1m":0.81,"2m":0.92,"3m":1.02,"4m":1.10,"5m":1.17,"6m":1.25,"7m":1.30,"8m":1.34,"9m":1.39,"10m":1.44,"11m":1.48,"1r":1.53},
{"d":"2011-01-15","1t":0.75,"2t":0.77,"3t":0.78,"1m":0.79,"2m":0.91,"3m":1.02,"4m":1.10,"5m":1.17,"6m":1.25,"7m":1.30,"8m":1.35,"9m":1.40,"10m":1.45,"11m":1.50,"1r":1.55},
{"d":"2011-02-15","1t":0.80,"2t":0.84,"3t":0.86,"1m":0.89,"2m":0.99,"3m":1.09,"4m":1.18,"5m":1.26,"6m":1.35,"7m":1.41,"8m":1.47,"9m":1.53,"10m":1.59,"11m":1.65,"1r":1.71},
{"d":"2011-03-15","1t":0.85,"2t":0.87,"3t":0.89,"1m":0.90,"2m":1.04,"3m":1.18,"4m":1.28,"5m":1.38,"6m":1.48,"7m":1.55,"8m":1.63,"9m":1.70,"10m":1.77,"11m":1.85,"1r":1.92},
{"d":"2011-04-15","1t":1.10,"2t":1.11,"3t":1.12,"1m":1.13,"2m":1.23,"3m":1.32,"4m":1.42,"5m":1.52,"6m":1.62,"7m":1.70,"8m":1.78,"9m":1.86,"10m":1.93,"11m":2.01,"1r":2.09},
{"d":"2011-05-15","1t":1.15,"2t":1.19,"3t":1.21,"1m":1.24,"2m":1.34,"3m":1.43,"4m":1.52,"5m":1.62,"6m":1.71,"7m":1.78,"8m":1.86,"9m":1.93,"10m":2.00,"11m":2.08,"1r":2.15},
{"d":"2011-06-15","1t":1.20,"2t":1.23,"3t":1.26,"1m":1.28,"2m":1.39,"3m":1.49,"4m":1.58,"5m":1.66,"6m":1.75,"7m":1.82,"8m":1.88,"9m":1.95,"10m":2.01,"11m":2.08,"1r":2.14},
{"d":"2011-07-15","1t":1.40,"2t":1.41,"3t":1.41,"1m":1.42,"2m":1.51,"3m":1.60,"4m":1.67,"5m":1.75,"6m":1.82,"7m":1.88,"8m":1.94,"9m":2.00,"10m":2.06,"11m":2.12,"1r":2.18},
{"d":"2011-08-15","1t":1.00,"2t":1.15,"3t":1.26,"1m":1.37,"2m":1.46,"3m":1.55,"4m":1.62,"5m":1.68,"6m":1.75,"7m":1.81,"8m":1.87,"9m":1.93,"10m":1.98,"11m":2.04,"1r":2.10},
{"d":"2011-09-15","1t":1.10,"2t":1.20,"3t":1.28,"1m":1.35,"2m":1.45,"3m":1.54,"4m":1.61,"5m":1.67,"6m":1.74,"7m":1.80,"8m":1.85,"9m":1.91,"10m":1.96,"11m":2.02,"1r":2.07},
{"d":"2011-10-15","1t":1.20,"2t":1.26,"3t":1.31,"1m":1.36,"2m":1.47,"3m":1.58,"4m":1.65,"5m":1.71,"6m":1.78,"7m":1.84,"8m":1.89,"9m":1.95,"10m":2.00,"11m":2.06,"1r":2.11},
{"d":"2011-11-15","1t":1.00,"2t":1.09,"3t":1.16,"1m":1.23,"2m":1.36,"3m":1.48,"4m":1.56,"5m":1.63,"6m":1.71,"7m":1.77,"8m":1.82,"9m":1.88,"10m":1.93,"11m":1.99,"1r":2.04},
{"d":"2011-12-15","1t":0.80,"2t":0.94,"3t":1.04,"1m":1.14,"2m":1.29,"3m":1.43,"4m":1.51,"5m":1.59,"6m":1.67,"7m":1.73,"8m":1.78,"9m":1.84,"10m":1.89,"11m":1.95,"1r":2.00},
{"d":"2012-01-15","1t":0.50,"2t":0.64,"3t":0.74,"1m":0.84,"2m":1.03,"3m":1.22,"4m":1.31,"5m":1.41,"6m":1.50,"7m":1.56,"8m":1.61,"9m":1.67,"10m":1.73,"11m":1.78,"1r":1.84},
{"d":"2012-02-15","1t":0.37,"2t":0.48,"3t":0.56,"1m":0.64,"2m":0.85,"3m":1.05,"4m":1.15,"5m":1.25,"6m":1.35,"7m":1.41,"8m":1.46,"9m":1.52,"10m":1.57,"11m":1.63,"1r":1.68},
{"d":"2012-03-15","1t":0.34,"2t":0.39,"3t":0.43,"1m":0.47,"2m":0.67,"3m":0.86,"4m":0.96,"5m":1.06,"6m":1.16,"7m":1.22,"8m":1.27,"9m":1.33,"10m":1.39,"11m":1.44,"1r":1.50},
{"d":"2012-04-15","1t":0.34,"2t":0.37,"3t":0.39,"1m":0.41,"2m":0.58,"3m":0.74,"4m":0.84,"5m":0.94,"6m":1.04,"7m":1.10,"8m":1.15,"9m":1.21,"10m":1.26,"11m":1.32,"1r":1.37},
{"d":"2012-05-15","1t":0.33,"2t":0.35,"3t":0.37,"1m":0.39,"2m":0.54,"3m":0.68,"4m":0.78,"5m":0.87,"6m":0.97,"7m":1.02,"8m":1.07,"9m":1.12,"10m":1.17,"11m":1.22,"1r":1.27},
{"d":"2012-06-15","1t":0.33,"2t":0.35,"3t":0.37,"1m":0.38,"2m":0.52,"3m":0.66,"4m":0.75,"5m":0.84,"6m":0.93,"7m":0.98,"8m":1.03,"9m":1.08,"10m":1.12,"11m":1.17,"1r":1.22},
{"d":"2012-07-05","1t":0.33,"2t":0.35,"3t":0.36,"1m":0.37,"2m":0.51,"3m":0.64,"4m":0.73,"5m":0.83,"6m":0.92,"7m":0.97,"8m":1.01,"9m":1.06,"10m":1.11,"11m":1.15,"1r":1.20},
{"d":"2012-07-25","1t":0.12,"2t":0.13,"3t":0.14,"1m":0.15,"2m":0.30,"3m":0.45,"4m":0.53,"5m":0.62,"6m":0.70,"7m":0.75,"8m":0.80,"9m":0.85,"10m":0.90,"11m":0.95,"1r":1.00},
{"d":"2012-08-15","1t":0.10,"2t":0.11,"3t":0.11,"1m":0.12,"2m":0.23,"3m":0.33,"4m":0.42,"5m":0.50,"6m":0.59,"7m":0.64,"8m":0.69,"9m":0.74,"10m":0.78,"11m":0.83,"1r":0.88},
{"d":"2012-09-15","1t":0.09,"2t":0.10,"3t":0.10,"1m":0.11,"2m":0.18,"3m":0.25,"4m":0.33,"5m":0.40,"6m":0.48,"7m":0.52,"8m":0.57,"9m":0.61,"10m":0.65,"11m":0.70,"1r":0.74},
{"d":"2012-10-15","1t":0.08,"2t":0.09,"3t":0.10,"1m":0.11,"2m":0.16,"3m":0.21,"4m":0.28,"5m":0.34,"6m":0.41,"7m":0.45,"8m":0.49,"9m":0.53,"10m":0.57,"11m":0.61,"1r":0.65},
{"d":"2012-11-15","1t":0.08,"2t":0.09,"3t":0.10,"1m":0.11,"2m":0.15,"3m":0.19,"4m":0.25,"5m":0.30,"6m":0.36,"7m":0.40,"8m":0.45,"9m":0.49,"10m":0.53,"11m":0.58,"1r":0.62},
{"d":"2012-12-31","1t":0.07,"2t":0.09,"3t":0.10,"1m":0.11,"2m":0.15,"3m":0.18,"4m":0.23,"5m":0.27,"6m":0.32,"7m":0.36,"8m":0.39,"9m":0.43,"10m":0.47,"11m":0.50,"1r":0.54}
]},
"transform":[{"fold":["1r","11m","10m","9m","8m","7m","6m","5m","4m","3m","2m","1m","3t","2t","1t"],"as":["s","v"]}],
"mark":{"type":"line","strokeWidth":1,"clip":true},
"encoding":{
 "x":{"field":"d","type":"temporal","scale":{"domain":[{"year":1999,"month":1,"date":4},{"year":2013,"month":1,"date":1}]},
  "axis":{"orient":"bottom","title":"Datum","values":[{"year":2000,"month":1,"date":1},{"year":2005,"month":1,"date":1},{"year":2010,"month":1,"date":1}],"format":"%d/%m/%y","grid":true,"labelPadding":16,"titlePadding":3}},
 "y":{"field":"v","type":"quantitative","scale":{"domain":[0,6],"nice":false},
  "axis":{"title":"Sazba [%]","values":[0,1,2,3,4,5,6],"format":"d","grid":true,"labelPadding":15,"titlePadding":10}},
 "color":{"field":"s","type":"nominal",
  "scale":{"domain":["1r","11m","10m","9m","8m","7m","6m","5m","4m","3m","2m","1m","3t","2t","1t","refi"],
   "range":["#ff4f86","#ff3fbf","#df1fff","#603fdf","#2f3fff","#5f8fef","#5fcfff","#3fffe6","#3fef8f","#00ff00","#9fef4f","#e6ff3f","#ffd77f","#ff8f4f","#ff2f2f","#000000"]},
  "legend":{"title":null,"orient":"none","legendX":807,"legendY":3,"symbolType":"M-5,0H5","symbolSize":132,"symbolStrokeWidth":1,"symbolOffset":25,"labelOffset":29,"labelFont":"Liberation Mono","labelFontSize":13,"labelColor":"black","fillColor":"white","strokeColor":"black","padding":9,"rowPadding":4.6,
   "encode":{"symbols":{"update":{"strokeWidth":{"signal":"datum.value === 'refi' ? 2 : 1"}}}}}}
}
},
{
"data":{"values":[
{"d":"1999-01-04","s":"refi","v":3.00},
{"d":"1999-04-09","s":"refi","v":2.50},
{"d":"1999-11-05","s":"refi","v":3.00},
{"d":"2000-02-04","s":"refi","v":3.25},
{"d":"2000-03-17","s":"refi","v":3.50},
{"d":"2000-04-28","s":"refi","v":3.75},
{"d":"2000-06-09","s":"refi","v":4.25},
{"d":"2000-09-06","s":"refi","v":4.50},
{"d":"2000-10-11","s":"refi","v":4.75},
{"d":"2001-05-11","s":"refi","v":4.50},
{"d":"2001-08-31","s":"refi","v":4.25},
{"d":"2001-09-18","s":"refi","v":3.75},
{"d":"2001-11-09","s":"refi","v":3.25},
{"d":"2002-12-06","s":"refi","v":2.75},
{"d":"2003-03-07","s":"refi","v":2.50},
{"d":"2003-06-06","s":"refi","v":2.00},
{"d":"2005-12-06","s":"refi","v":2.25},
{"d":"2006-03-08","s":"refi","v":2.50},
{"d":"2006-06-15","s":"refi","v":2.75},
{"d":"2006-08-09","s":"refi","v":3.00},
{"d":"2006-10-11","s":"refi","v":3.25},
{"d":"2006-12-13","s":"refi","v":3.50},
{"d":"2007-03-14","s":"refi","v":3.75},
{"d":"2007-06-13","s":"refi","v":4.00},
{"d":"2008-07-09","s":"refi","v":4.25},
{"d":"2008-10-15","s":"refi","v":3.75},
{"d":"2008-11-12","s":"refi","v":3.25},
{"d":"2008-12-10","s":"refi","v":2.50},
{"d":"2009-01-21","s":"refi","v":2.00},
{"d":"2009-03-11","s":"refi","v":1.50},
{"d":"2009-04-08","s":"refi","v":1.25},
{"d":"2009-05-13","s":"refi","v":1.00},
{"d":"2011-04-13","s":"refi","v":1.25},
{"d":"2011-07-13","s":"refi","v":1.50},
{"d":"2011-11-09","s":"refi","v":1.25},
{"d":"2011-12-14","s":"refi","v":1.00},
{"d":"2012-07-11","s":"refi","v":0.75},
{"d":"2013-01-01","s":"refi","v":0.75}
]},
"mark":{"type":"line","interpolate":"step-after","strokeWidth":2.2,"clip":true},
"encoding":{
 "x":{"field":"d","type":"temporal","axis":{"orient":"top","labels":false,"title":null,"grid":false,"domain":false,"values":[{"year":2000,"month":1,"date":1},{"year":2005,"month":1,"date":1},{"year":2010,"month":1,"date":1}]}},
 "y":{"field":"v","type":"quantitative"},
 "color":{"field":"s","type":"nominal"}
}
}
]
}
